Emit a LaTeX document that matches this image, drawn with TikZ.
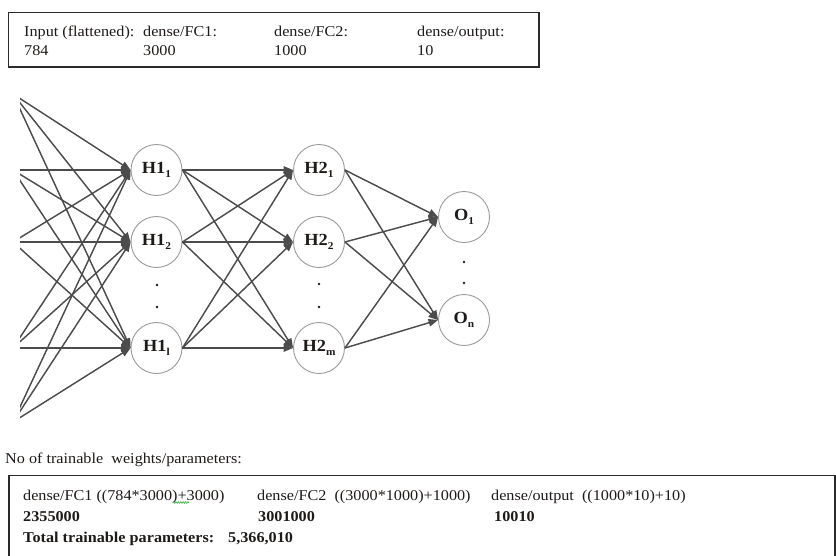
\documentclass[tikz,border=0pt]{standalone}
\usepackage{fontspec}
\setmainfont[FakeStretch=1.08]{Liberation Serif}
\usetikzlibrary{arrows.meta,decorations.pathmorphing}
\definecolor{edgegray}{HTML}{4C4C4C}
\definecolor{ringgray}{HTML}{9A9A9A}
\definecolor{framegray}{HTML}{2A2A2A}
\definecolor{inkcolor}{HTML}{1E1A18}
\definecolor{spellgreen}{HTML}{3CB043}
% small lowered index for neuron labels
\newcommand{\nidx}[1]{\raisebox{-0.45ex}{\fontsize{10.5}{11}\selectfont #1}}
\tikzset{
  neuron/.style={circle, draw=ringgray, line width=0.9pt, fill=white, text=inkcolor,
    minimum size=51pt, inner sep=0pt, font=\fontsize{17}{19}\selectfont\bfseries},
  link/.style={draw=edgegray, line width=1.45pt, -{Triangle[length=9.5pt,width=7.5pt]}},
  frame/.style={draw=framegray, line width=1.2pt},
  txt/.style={anchor=base west, inner sep=0pt, text=inkcolor, font=\fontsize{15}{18}\selectfont},
  txtb/.style={txt, font=\fontsize{15}{18}\selectfont\bfseries},
  dotn/.style={circle, fill=inkcolor, minimum size=2.8pt, inner sep=0pt},
}
\begin{document}
\begin{tikzpicture}[x=1pt,y=-1pt]
\useasboundingbox (0,0) rectangle (836,555);

% layer sizes
\draw[frame] (8.5,12.5) rectangle (539,67);
\node[txt] (inp)  at (24,36)  {Input (flattened):};
\node[txt] (fc1)  at (143,36) {dense/FC1:};
\node[txt] (fc2)  at (274,36) {dense/FC2:};
\node[txt] (outl) at (417,36) {dense/output:};
\node[txt] (inpn) at (24,55)  {784};
\node[txt] (fc1n) at (143,55) {3000};
\node[txt] (fc2n) at (274,55) {1000};
\node[txt] (outn) at (417,55) {10};

% neurons
\node[neuron] (h11) at (156.5,170) {H1\nidx{1}};
\node[neuron] (h12) at (156.5,242) {H1\nidx{2}};
\node[neuron] (h1l) at (156.5,348) {H1\nidx{l}};
\node[neuron] (h21) at (319,170) {H2\nidx{1}};
\node[neuron] (h22) at (319,242) {H2\nidx{2}};
\node[neuron] (h2m) at (319,348) {H2\nidx{m}};
\node[neuron] (o1)  at (464,217) {O\nidx{1}};
\node[neuron] (on)  at (464,320) {O\nidx{n}};

% ellipsis dots
\node[dotn] (d1a) at (157,285) {};
\node[dotn] (d1b) at (157,307) {};
\node[dotn] (d2a) at (319,284) {};
\node[dotn] (d2b) at (319,307) {};
\node[dotn] (d3a) at (464,262) {};
\node[dotn] (d3b) at (464,283) {};

% inputs lie just left of the visible area
\coordinate (in1) at (13,94);
\coordinate (in2) at (13,170);
\coordinate (in3) at (13,242);
\coordinate (in4) at (13,348);
\coordinate (in5) at (13,422);
\begin{scope}
  \clip (20,0) rectangle (836,555);
  \foreach \i in {1,...,5}
    \foreach \h in {h11,h12,h1l}
      \draw[link] (in\i) -- (\h.west);
\end{scope}

\foreach \a in {h11,h12,h1l}
  \foreach \b in {h21,h22,h2m}
    \draw[link] (\a.east) -- (\b.west);
\foreach \a in {h21,h22,h2m}
  \foreach \b in {o1,on}
    \draw[link] (\a.east) -- (\b.west);

% parameter counts
\node[txt] (ptitle) at (5,463) {No of trainable\ \ weights/parameters:};
\draw[frame] (9,557) -- (9,475.5) -- (835,475.5) -- (835,557);
\node[txt]  (p1) at (23,500)  {dense/FC1 ((784*3000)+3000)};
\node[txt]  (p2) at (257,500) {dense/FC2\ \ ((3000*1000)+1000)};
\node[txt]  (p3) at (491,500) {dense/output\ \ ((1000*10)+10)};
\node[txtb] (n1) at (23,521)  {2355000};
\node[txtb] (n2) at (258,521) {3001000};
\node[txtb] (n3) at (494,521) {10010};
\node[txtb] (tot) at (23,542) {Total trainable parameters:};
\node[txtb] (totn) at (228,542) {5,366,010};
\draw[spellgreen, line width=0.6pt, decorate,
  decoration={zigzag, amplitude=0.9pt, segment length=2.4pt}] (173,502.5) -- (189,502.5);
\end{tikzpicture}
\end{document}
